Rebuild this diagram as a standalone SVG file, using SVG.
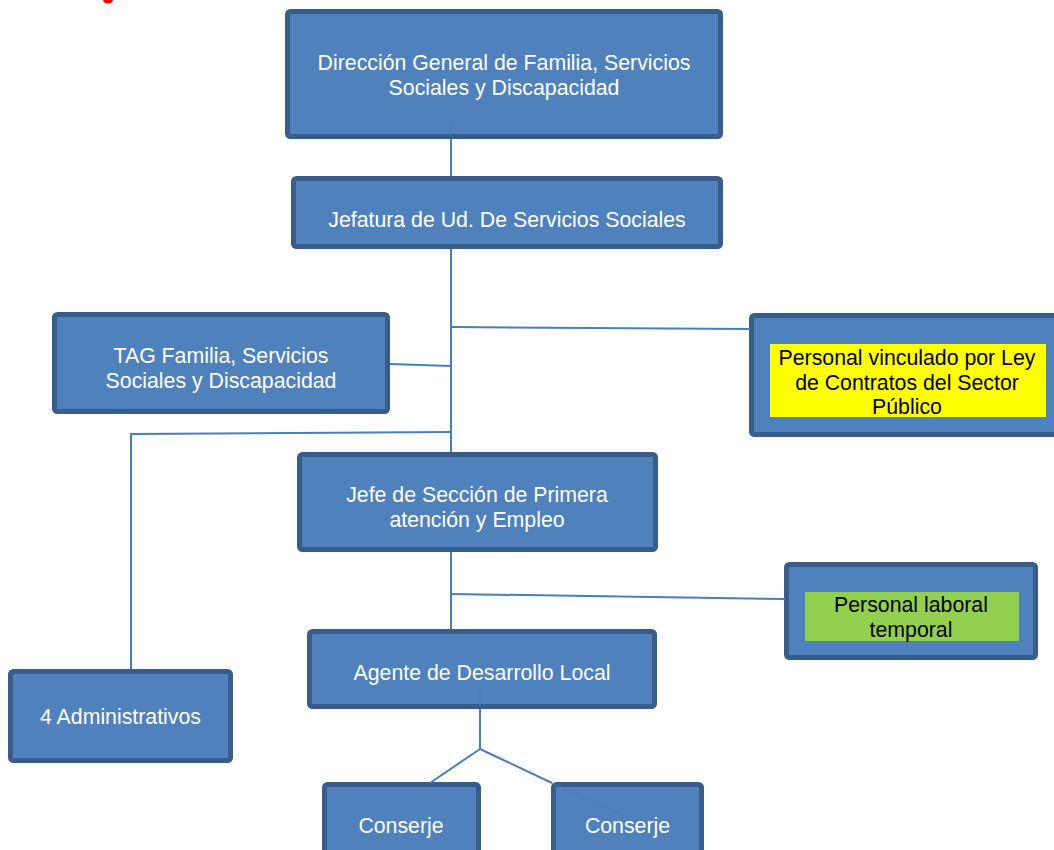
<svg xmlns="http://www.w3.org/2000/svg" width="1054" height="850" viewBox="0 0 1054 850">
<style>
.box{fill:#4F81BD;stroke:#385D8A;stroke-width:5}
.t{font-family:"Liberation Sans",Arial,sans-serif;font-size:21.3px;fill:#FFFFFF;text-anchor:middle}
.tb{font-family:"Liberation Sans",Arial,sans-serif;font-size:21.3px;fill:#000000;text-anchor:middle}
.c{fill:none;stroke:#4A7EBB;stroke-width:2}
.cf{fill:none;stroke:#4A7EBB;stroke-width:1.5;opacity:0.45}
</style>
<rect width="1054" height="850" fill="#FFFFFF"/>
<ellipse cx="108" cy="0" rx="5" ry="3.5" fill="#FF0000"/>
<g id="n-direccion">
<rect class="box" x="287.5" y="11.5" width="433" height="125" rx="3"/>
<text class="t" x="504" y="70">Dirección General de Familia, Servicios</text>
<text class="t" x="504" y="95">Sociales y Discapacidad</text>
</g>
<g id="n-jefatura">
<rect class="box" x="293.5" y="178.5" width="427" height="68" rx="3"/>
<text class="t" x="507" y="227">Jefatura de Ud. De Servicios Sociales</text>
</g>
<g id="n-tag">
<rect class="box" x="54.5" y="314.5" width="333" height="97" rx="3"/>
<text class="t" x="221" y="363">TAG Familia, Servicios</text>
<text class="t" x="221" y="388">Sociales y Discapacidad</text>
</g>
<g id="n-contratos">
<rect class="box" x="751.5" y="315.5" width="306" height="119" rx="3"/>
<rect x="770" y="344" width="276" height="73" fill="#FFFF00"/>
<text class="tb" x="907" y="365">Personal vinculado por Ley</text>
<text class="tb" x="907" y="390">de Contratos del Sector</text>
<text class="tb" x="907" y="414">Público</text>
</g>
<g id="n-jefe-seccion">
<rect class="box" x="299.5" y="454.5" width="356" height="95" rx="3"/>
<text class="t" x="477" y="502">Jefe de Sección de Primera</text>
<text class="t" x="477" y="527">atención y Empleo</text>
</g>
<g id="n-laboral">
<rect class="box" x="786.5" y="564.5" width="249" height="93" rx="3"/>
<rect x="805" y="592" width="214" height="49" fill="#92D050"/>
<text class="tb" x="911" y="612">Personal laboral</text>
<text class="tb" x="911" y="637">temporal</text>
</g>
<g id="n-agente">
<rect class="box" x="309.5" y="631.5" width="345" height="75" rx="3"/>
<text class="t" x="482" y="680">Agente de Desarrollo Local</text>
</g>
<g id="n-administrativos">
<rect class="box" x="10.5" y="671.5" width="220" height="89" rx="3"/>
<text class="t" x="120.5" y="724">4 Administrativos</text>
</g>
<g id="n-conserje1">
<rect class="box" x="324.5" y="784.5" width="154" height="80" rx="3"/>
<text class="t" x="401" y="833">Conserje</text>
</g>
<g id="n-conserje2">
<rect class="box" x="553.5" y="784.5" width="148" height="80" rx="3"/>
<text class="t" x="627.5" y="833">Conserje</text>
</g>
<g id="connectors">
<line class="cf" x1="451" y1="120" x2="451" y2="137"/>
<line class="c" x1="451" y1="139" x2="451" y2="176"/>
<line class="c" x1="451" y1="249" x2="451" y2="452"/>
<line class="c" x1="451" y1="327" x2="750" y2="329"/>
<line class="c" x1="390" y1="364" x2="451" y2="366"/>
<polyline class="c" points="451,432 131,434 131,669"/>
<line class="c" x1="451" y1="552" x2="451" y2="629"/>
<line class="c" x1="451" y1="594" x2="785" y2="599"/>
<line class="cf" x1="480" y1="685" x2="480" y2="707"/>
<line class="c" x1="480" y1="709" x2="480" y2="749"/>
<line class="c" x1="480" y1="749" x2="430" y2="783"/>
<line class="c" x1="480" y1="749" x2="552" y2="783"/>
<line class="cf" x1="552" y1="783" x2="632" y2="820"/>
</g>
</svg>
